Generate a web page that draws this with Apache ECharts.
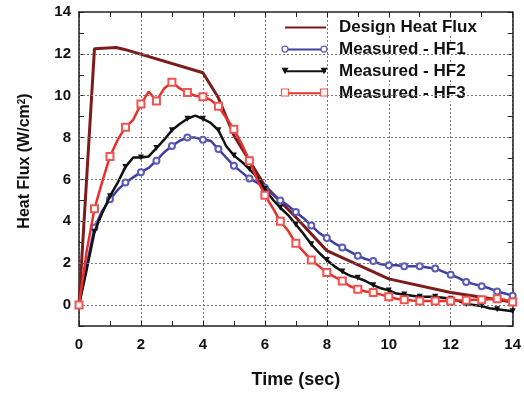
<!DOCTYPE html>
<html><head><meta charset="utf-8">
<script src="https://cdn.jsdelivr.net/npm/echarts@6/dist/echarts.min.js"></script>
<style>html,body{margin:0;padding:0;background:#fff}#c{width:524px;height:394px}</style>
</head><body><div id="c"></div>
<script>
// ---- data ----
const designTime = [0, 0.5, 1.2, 1.5, 4, 4.5, 5, 6, 7, 8, 10, 12, 14];
const designFlux = [0, 12.25, 12.3, 12.2, 11.1, 9.9, 8.1, 5.7, 4.2, 2.6, 1.25, 0.6, 0.15];

const time = [0,0.25,0.5,0.75,1,1.25,1.5,1.75,2,2.25,2.5,2.75,3,3.25,3.5,3.75,4,4.25,4.5,4.75,5,5.25,5.5,5.75,6,6.25,6.5,6.75,7,7.25,7.5,7.75,8,8.25,8.5,8.75,9,9.25,9.5,9.75,10,10.25,10.5,10.75,11,11.25,11.5,11.75,12,12.25,12.5,12.75,13,13.25,13.5,13.75,14];
const hf1 = [0,1.9,3.7,4.5,5.05,5.5,5.85,6.1,6.35,6.55,6.9,7.3,7.6,7.85,8.0,8.0,7.9,7.85,7.45,7.05,6.65,6.35,6.05,5.85,5.6,5.3,5.0,4.75,4.45,4.15,3.8,3.45,3.2,2.95,2.75,2.55,2.35,2.2,2.1,1.95,1.9,1.9,1.85,1.85,1.85,1.8,1.75,1.6,1.45,1.3,1.1,1.0,0.9,0.8,0.65,0.55,0.45];
const hf2 = [0,1.7,3.5,4.4,5.2,5.85,6.6,7.05,7.05,7.1,7.5,7.9,8.35,8.65,8.9,9.05,8.9,8.7,8.35,7.6,7.15,6.85,6.5,6.1,5.55,5.05,4.65,4.3,3.85,3.4,2.9,2.5,2.15,1.85,1.6,1.4,1.3,1.15,0.95,0.8,0.7,0.55,0.5,0.45,0.4,0.4,0.4,0.35,0.3,0.2,0.05,0.0,-0.05,-0.15,-0.2,-0.25,-0.3];
const hf3 = [0,2.6,4.6,5.9,7.1,7.9,8.5,8.85,9.6,10.2,9.75,10.35,10.65,10.35,10.15,10.0,9.95,9.8,9.5,8.95,8.4,7.7,6.9,6.0,5.25,4.65,4.0,3.55,2.95,2.55,2.15,1.85,1.55,1.35,1.15,0.9,0.75,0.65,0.6,0.5,0.4,0.3,0.25,0.22,0.2,0.2,0.2,0.2,0.2,0.22,0.23,0.25,0.25,0.28,0.3,0.25,0.15];

const seriesNames = ['Design Heat Flux', 'Measured - HF1', 'Measured - HF2', 'Measured - HF3'];
const xTicks = [0, 2, 4, 6, 8, 10, 12, 14];
const yTicks = [0, 2, 4, 6, 8, 10, 12, 14];
const yGridLines = [0, 2, 4, 6, 8, 10, 12];

// ---- chart ----
const FONT = 'Liberation Sans, Arial, sans-serif';
const zip = (xs, ys) => xs.map((x, i) => [x, ys[i]]);
const everyOther = (sym) => (v, p) => (p.dataIndex % 2 === 0 ? sym : 'none');

const C_DES = '#7d1c1c', C_HF1 = '#3f3fa3', C_HF2 = '#111', C_HF3 = '#e8302a';

// legend layout
const LEG_LEFT = 284, LEG_TOP = 19, LEG_W = 41, ROW_H = 16, LEG_GAP = 4.9, ROW_STEP = 21.7;
const rowY = i => LEG_TOP + 8.4 + i * ROW_STEP;
const endMarkers = [];
[[1, 'circle'], [2, 'tri'], [3, 'rect']].forEach(([i, kind]) => {
  [LEG_LEFT + 1, LEG_LEFT + LEG_W - 1].forEach(x => {
    const y = rowY(i);
    if (kind === 'circle') endMarkers.push({type: 'circle', shape: {cx: x, cy: y, r: 3}, style: {fill: '#fff', stroke: '#5a5ab8', lineWidth: 1.2}, z: 100});
    if (kind === 'tri') endMarkers.push({type: 'polygon', shape: {points: [[x - 3.5, y - 3], [x + 3.5, y - 3], [x, y + 3.5]]}, style: {fill: C_HF2}, z: 100});
    if (kind === 'rect') endMarkers.push({type: 'rect', shape: {x: x - 3.5, y: y - 3.5, width: 7, height: 7}, style: {fill: '#fff', stroke: '#ee5550', lineWidth: 1.2}, z: 100});
  });
});

const chart = echarts.init(document.getElementById('c'), null, {renderer: 'canvas'});
const axisCommon = {
  type: 'value',
  axisLine: {show: true, onZero: false, lineStyle: {color: '#222', width: 1.5}},
  axisTick: {show: true, inside: true, length: 5, lineStyle: {color: '#222'}},
};
chart.setOption({
  animation: false,
  backgroundColor: '#fff',
  grid: {left: 79, right: 11, top: 12, bottom: 63, show: false},
  legend: {
    orient: 'vertical', left: LEG_LEFT, top: LEG_TOP, padding: 0,
    itemWidth: LEG_W, itemHeight: 12, itemGap: LEG_GAP,
    data: seriesNames,
    itemStyle: {opacity: 0},
    textStyle: {fontFamily: FONT, fontWeight: 'bold', fontSize: 17, lineHeight: ROW_H, color: '#111',
                padding: [0, 0, 0, 8], backgroundColor: '#fff'}
  },
  graphic: endMarkers,
  xAxis: [
    Object.assign({}, axisCommon, {
      min: 0, max: 14, interval: 2, position: 'bottom',
      minorTick: {show: true, splitNumber: 2, length: 5, lineStyle: {color: '#222'}},
      axisLabel: {fontFamily: FONT, fontWeight: 'bold', fontSize: 15, color: '#111', margin: 11,
                  formatter: v => (xTicks.indexOf(v) >= 0 ? String(v) : '')},
      splitLine: {show: true, lineStyle: {color: '#777', type: [2, 2], width: 1}},
      name: 'Time (sec)', nameLocation: 'middle', nameGap: 45,
      nameTextStyle: {fontFamily: FONT, fontWeight: 'bold', fontSize: 18, color: '#111'}
    }),
    Object.assign({}, axisCommon, {
      min: 0, max: 14, interval: 2, position: 'top',
      minorTick: {show: true, splitNumber: 2, length: 5, lineStyle: {color: '#222'}},
      axisLabel: {show: false}, splitLine: {show: false}
    })
  ],
  yAxis: [
    Object.assign({}, axisCommon, {
      min: -1, max: 14, interval: 1, position: 'left',
      axisLabel: {fontFamily: FONT, fontWeight: 'bold', fontSize: 15, color: '#111', margin: 8,
                  formatter: v => (yTicks.indexOf(v) >= 0 ? String(v) : '')},
      splitLine: {show: false},
      name: 'Heat Flux (W/cm{sup|2})', nameLocation: 'middle', nameGap: 46, nameRotate: 90,
      nameTextStyle: {fontFamily: FONT, fontWeight: 'bold', fontSize: 16, color: '#111', padding: [0, 0, 0, 16],
        rich: {sup: {fontFamily: FONT, fontWeight: 'bold', fontSize: 10, color: '#111', verticalAlign: 'top', lineHeight: 10, padding: [0, 0, 8, 0]}}}
    }),
    Object.assign({}, axisCommon, {
      min: -1, max: 14, interval: 1, position: 'right',
      axisLabel: {show: false}, splitLine: {show: false}
    })
  ],
  series: [
    {
      name: seriesNames[0], type: 'line', data: zip(designTime, designFlux),
      symbol: 'none', z: 2,
      lineStyle: {color: C_DES, width: 3}, itemStyle: {color: C_DES},
      markLine: {
        silent: true, symbol: 'none', label: {show: false},
        lineStyle: {color: '#777', type: [2, 2], width: 1},
        data: yGridLines.map(v => ({yAxis: v}))
      }
    },
    {
      name: seriesNames[1], type: 'line', data: zip(time, hf1), z: 3,
      symbol: everyOther('emptyCircle'), symbolSize: 6, showAllSymbol: true,
      lineStyle: {color: C_HF1, width: 2.5},
      itemStyle: {color: '#5a5ab8', borderWidth: 1}
    },
    {
      name: seriesNames[2], type: 'line', data: zip(time, hf2), z: 4,
      symbol: everyOther('triangle'), symbolRotate: 180, symbolSize: 6, showAllSymbol: true,
      lineStyle: {color: C_HF2, width: 2.5},
      itemStyle: {color: C_HF2}
    },
    {
      name: seriesNames[3], type: 'line', data: zip(time, hf3), z: 5,
      symbol: everyOther('emptyRect'), symbolSize: 7, showAllSymbol: true,
      lineStyle: {color: C_HF3, width: 2.5},
      itemStyle: {color: '#ee5550', borderWidth: 1}
    }
  ]
});
</script>
</body></html>
